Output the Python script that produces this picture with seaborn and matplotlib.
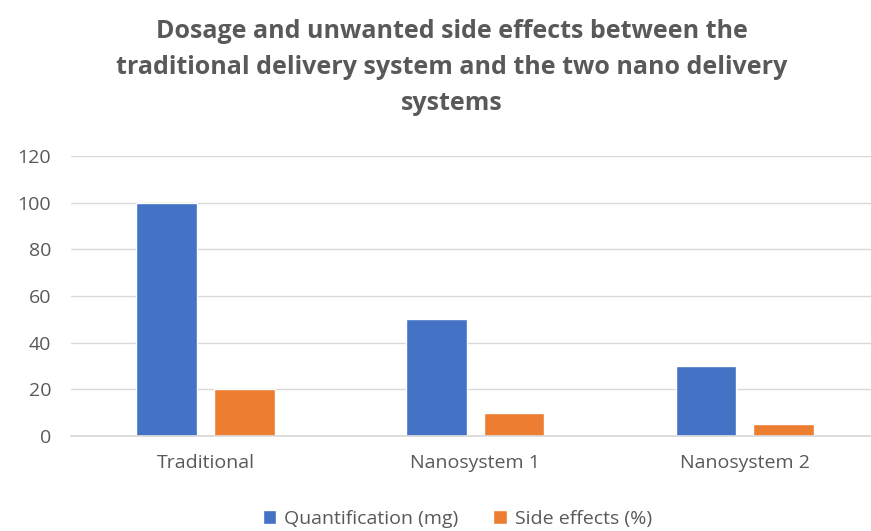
import matplotlib
matplotlib.use("Agg")
from matplotlib import pyplot as plt
import pandas as pd
import seaborn as sns

categories = ["Traditional", "Nanosystem 1", "Nanosystem 2"]
quantification = [100, 50, 30]
side_effects = [20, 10, 5]
series_names = ["Quantification (mg)", "Side effects (%)"]

df = pd.DataFrame({
    "system": categories * 2,
    "value": quantification + side_effects,
    "series": [series_names[0]] * 3 + [series_names[1]] * 3,
})

sns.set_theme(style="white")
plt.rcParams["font.family"] = ["Open Sans", "DejaVu Sans"]

fig = plt.figure(figsize=(8.71, 5.31), dpi=100)
ax = fig.add_axes([0.081, 0.179, 0.929, 0.527])

sns.barplot(data=df, x="system", y="value", hue="series",
            palette=["#4472C4", "#ED7D31"], width=0.576, gap=0.22,
            saturation=1, ax=ax)

ax.set_ylim(0, 120)
ax.set_yticks(range(0, 121, 20))
ax.set_xlim(-0.5, 2.5)
ax.yaxis.grid(True, color="#D9D9D9", linewidth=1)
ax.set_axisbelow(True)
for s in ["top", "right", "left"]:
    ax.spines[s].set_visible(False)
ax.spines["bottom"].set_color("#D9D9D9")
ax.tick_params(axis="both", colors="#595959", labelsize=14, length=0)
ax.tick_params(axis="y", pad=14)
ax.tick_params(axis="x", pad=13)
ax.set_xlabel("")
ax.set_ylabel("")

fig.text(0.519, 0.872, "Dosage and unwanted side effects between the\n"
         "traditional delivery system and the two nano delivery\n"
         "systems", fontsize=18, fontweight="bold", color="#595959",
         ha="center", va="center", linespacing=1.58)

ax.legend(loc="center", bbox_to_anchor=(0.478, -0.297), ncol=2, frameon=False,
          fontsize=14, handlelength=0.7, handleheight=0.7, columnspacing=1.8,
          handletextpad=0.4, labelcolor="#595959")

fig.savefig("out.png", dpi=100)
